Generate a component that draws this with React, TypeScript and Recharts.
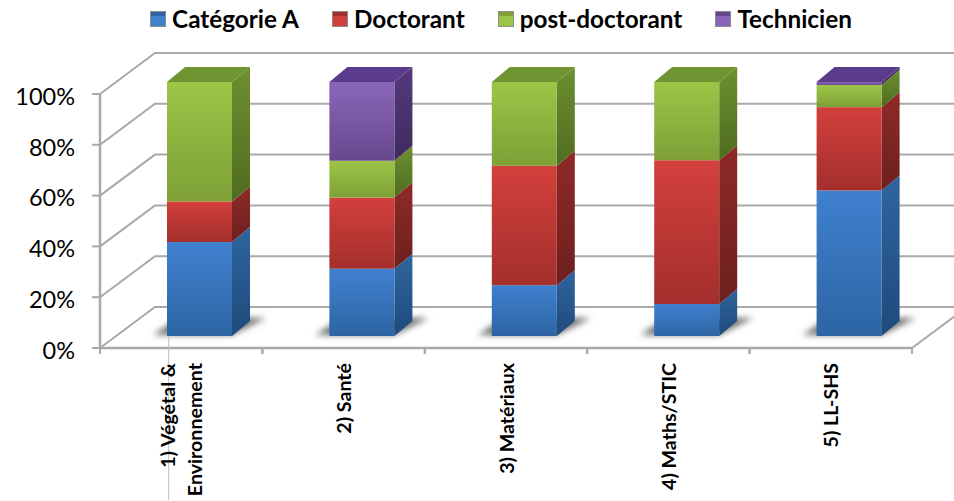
import { Bar, BarChart, CartesianGrid, Legend, XAxis, YAxis } from 'recharts'

const categories = ['1) Végétal & Environnement', '2) Santé', '3) Matériaux', '4) Maths/STIC', '5) LL-SHS']
const categoryLines = [['1) Végétal &', 'Environnement'], ['2) Santé'], ['3) Matériaux'], ['4) Maths/STIC'], ['5) LL-SHS']]
const categorieA = [37, 26.5, 20, 12.6, 57.3]
const doctorant = [16, 28, 47, 56.6, 32.8]
const postDoctorant = [47, 14.5, 33, 30.8, 8.7]
const technicien = [0, 31, 0, 0, 1.2]
const yTicks = [0, 20, 40, 60, 80, 100]

const chartData = categories.map((name, i) => ({
  name,
  categorieA: categorieA[i],
  doctorant: doctorant[i],
  postDoctorant: postDoctorant[i],
  technicien: technicien[i],
}))

const FONT = 'Lato, sans-serif'
const GRID = '#a9a9a9'
const WALL_X = 55
const WALL_Y = 41
const BAR_SHIFT_X = 18
const BAR_SHIFT_Y = 12
const DEPTH_X = 18
const DEPTH_Y = 15
const BAND = (954 - 42 - 100) / 5

const palette = {
  categorieA: { id: 'blue', top: '#3f80cf', bottom: '#2d65a3', sideTop: '#2f659f', sideBottom: '#1f4a7c', cap: '#3a70b0' },
  doctorant: { id: 'red', top: '#d3403c', bottom: '#a32f2c', sideTop: '#8f2a28', sideBottom: '#6c201f', cap: '#b03532' },
  postDoctorant: { id: 'green', top: '#9cc547', bottom: '#7ea036', sideTop: '#6d9030', sideBottom: '#4f6c20', cap: '#6f9431' },
  technicien: { id: 'purple', top: '#8a66b8', bottom: '#67488f', sideTop: '#55397c', sideBottom: '#3f2b5e', cap: '#5b3c8c' },
}
type SeriesKey = keyof typeof palette
const seriesOrder: SeriesKey[] = ['categorieA', 'doctorant', 'postDoctorant', 'technicien']
const seriesLabels: Record<SeriesKey, string> = {
  categorieA: 'Catégorie A',
  doctorant: 'Doctorant',
  postDoctorant: 'post-doctorant',
  technicien: 'Technicien',
}

function Box3D(props: any) {
  const { x, y, width, height, payload, seriesKey } = props
  const key = seriesKey as SeriesKey
  if (!payload[key]) return null
  const colors = palette[key]
  const left = x + BAR_SHIFT_X
  const right = left + width
  const top = y - BAR_SHIFT_Y
  const bottom = top + height
  const topKey = [...seriesOrder].reverse().find(k => payload[k] > 0)
  return (
    <g>
      {key === 'categorieA' && (
        <polygon
          points={`${left - 14},${bottom - 1} ${right},${bottom - 1} ${right + DEPTH_X + 16},${bottom - 18} ${left + 12},${bottom - 18}`}
          fill="#6e6e6e"
          filter="url(#floorBlur)"
        />
      )}
      <polygon
        points={`${right},${top} ${right + DEPTH_X},${top - DEPTH_Y} ${right + DEPTH_X},${bottom - DEPTH_Y} ${right},${bottom}`}
        fill={`url(#${colors.id}Side)`}
      />
      {topKey === key && (
        <polygon
          points={`${left},${top} ${left + DEPTH_X},${top - DEPTH_Y} ${right + DEPTH_X},${top - DEPTH_Y} ${right},${top}`}
          fill={colors.cap}
        />
      )}
      <rect x={left} y={top} width={width} height={height} fill={`url(#${colors.id}Front)`} />
    </g>
  )
}

function gridLine(props: any) {
  const { x1, x2, y1, index } = props
  return (
    <g key={`grid-${index}`}>
      <polyline
        points={`${x1},${y1} ${x1 + WALL_X},${y1 - WALL_Y} ${x2 + WALL_X},${y1 - WALL_Y}`}
        fill="none"
        stroke={GRID}
        strokeWidth={2}
      />
      {y1 > 340 && (
        <line x1={x2} y1={y1} x2={x2 + WALL_X} y2={y1 - WALL_Y} stroke={GRID} strokeWidth={2} />
      )}
    </g>
  )
}

function CategoryTick(props: any) {
  const { x, index } = props
  const lines = categoryLines[index]
  return (
    <g>
      <line x1={x - BAND / 2} y1={348} x2={x - BAND / 2} y2={354} stroke={GRID} strokeWidth={2} />
      <line x1={x + BAND / 2} y1={348} x2={x + BAND / 2} y2={354} stroke={GRID} strokeWidth={2} />
      {index === 0 && <line x1={x - 12.5} y1={336} x2={x - 12.5} y2={500} stroke="#bdbdbd" strokeWidth={1} />}
      {lines.map((line, i) => {
        const tx = x + (i - (lines.length - 1) / 2) * 27
        return (
          <text
            key={line}
            x={tx}
            y={363}
            transform={`rotate(-90 ${tx} 363)`}
            textAnchor="end"
            dominantBaseline="central"
            fontFamily={FONT}
            fontWeight={700}
            fontSize={19.6}
            fill="#000"
          >
            {line}
          </text>
        )
      })}
    </g>
  )
}

function LegendSwatch({ seriesKey }: { seriesKey: SeriesKey }) {
  const colors = palette[seriesKey]
  return (
    <svg width={16} height={16} style={{ display: 'block' }}>
      <rect x={0.5} y={0.5} width={15} height={15} fill={colors.top} stroke="#8c8c8c" />
      <rect x={1} y={1} width={14} height={4} fill={colors.bottom} />
    </svg>
  )
}

function renderLegend() {
  return (
    <div style={{ display: 'flex', justifyContent: 'center', gap: 33, fontFamily: FONT, fontWeight: 700, fontSize: 24.3, color: '#000', whiteSpace: 'nowrap' }}>
      {seriesOrder.map(key => (
        <div key={key} style={{ display: 'flex', alignItems: 'center', gap: 6 }}>
          <LegendSwatch seriesKey={key} />
          <span>{seriesLabels[key]}</span>
        </div>
      ))}
    </div>
  )
}

export default function App() {
  return (
    <div style={{ position: 'absolute', left: 0, top: 0, width: 954, height: 501, background: '#fff' }}>
      <BarChart
        width={954}
        height={501}
        data={chartData}
        margin={{ top: 94, right: 42, bottom: 0, left: 0 }}
        barSize={65}
        barCategoryGap={0}
      >
        <defs>
          <filter id="floorBlur" x="-20%" y="-50%" width="140%" height="200%">
            <feGaussianBlur stdDeviation="3" />
          </filter>
          {seriesOrder.map(key => {
            const c = palette[key]
            return [
              <linearGradient key={`${c.id}F`} id={`${c.id}Front`} x1="0" y1="0" x2="0" y2="1">
                <stop offset="0%" stopColor={c.top} />
                <stop offset="100%" stopColor={c.bottom} />
              </linearGradient>,
              <linearGradient key={`${c.id}S`} id={`${c.id}Side`} x1="0" y1="0" x2="0" y2="1">
                <stop offset="0%" stopColor={c.sideTop} />
                <stop offset="100%" stopColor={c.sideBottom} />
              </linearGradient>,
            ]
          })}
        </defs>
        <CartesianGrid vertical={false} horizontal={gridLine} />
        <XAxis
          dataKey="name"
          interval={0}
          height={153}
          tick={<CategoryTick />}
          tickLine={false}
          axisLine={{ stroke: GRID, strokeWidth: 2.5 }}
        />
        <YAxis
          width={100}
          domain={[0, 100]}
          ticks={yTicks}
          tickFormatter={(v: number) => `${v}%`}
          tickSize={8}
          tickMargin={17}
          tick={{ fontFamily: FONT, fontSize: 23.5, fill: '#000', dy: 2.5 }}
          tickLine={{ stroke: GRID, strokeWidth: 2 }}
          axisLine={{ stroke: GRID, strokeWidth: 2.5 }}
        />
        <Legend
          verticalAlign="middle"
          layout="horizontal"
          wrapperStyle={{ top: 4, left: 0, width: 1002 }}
          content={renderLegend}
        />
        {seriesOrder.map(key => (
          <Bar
            key={key}
            dataKey={key}
            stackId="a"
            name={seriesLabels[key]}
            fill={palette[key].top}
            isAnimationActive={false}
            shape={(p: any) => <Box3D {...p} seriesKey={key} />}
          />
        ))}
      </BarChart>
    </div>
  )
}
